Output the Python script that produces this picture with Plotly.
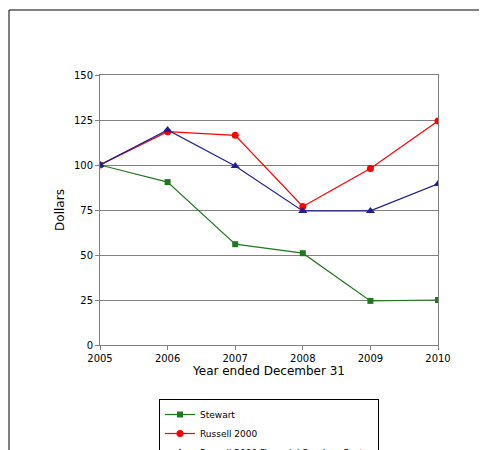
import plotly.graph_objects as go

years = [2005, 2006, 2007, 2008, 2009, 2010]
stewart = [100, 90.5, 56, 51, 24.5, 25]
russell = [100, 118.5, 116.5, 77, 98, 124.5]
financial = [100, 119.5, 99.5, 74.5, 74.5, 89.5]

fig = go.Figure()
fig.add_trace(go.Scatter(x=years, y=stewart, name="Stewart", mode="lines+markers",
                         line=dict(color="#217821", width=1.2), marker=dict(symbol="square", size=6)))
fig.add_trace(go.Scatter(x=years, y=russell, name="Russell 2000", mode="lines+markers",
                         line=dict(color="#ff0000", width=1.2), marker=dict(symbol="circle", size=7)))
fig.add_trace(go.Scatter(x=years, y=financial, name="Russell 2000 Financial Services Sector", mode="lines+markers",
                         line=dict(color="#1f1f8f", width=1.2), marker=dict(symbol="triangle-up", size=8)))

fig.update_layout(
    width=487, height=450, paper_bgcolor="white", plot_bgcolor="white",
    margin=dict(l=92, r=57, t=67, b=113, autoexpand=False),
    font=dict(family="DejaVu Sans", size=10, color="black"),
    xaxis=dict(range=[2005, 2010], tickvals=years, showgrid=False, showline=True, linecolor="#808080",
               mirror=True, ticks="outside", ticklen=4, tickcolor="#808080",
               title=dict(text="Year ended December 31", standoff=0)),
    yaxis=dict(range=[0, 150], dtick=25, showgrid=True, gridcolor="#808080", gridwidth=1,
               showline=True, linecolor="#808080", mirror=True, ticks="outside", ticklen=4,
               tickcolor="#808080", title=dict(text="Dollars", standoff=6), zeroline=False),
    legend=dict(orientation="h", x=0.5, xanchor="center", y=-0.2, yanchor="top",
                bordercolor="black", borderwidth=1, font=dict(size=9), itemwidth=30,
                tracegroupgap=0),
    shapes=[dict(type="rect", xref="paper", yref="paper", x0=-91/338, x1=1+55/338,
                 y0=-111/270, y1=1+65/270, line=dict(color="black", width=1))],
)
fig.write_html("out.html")
